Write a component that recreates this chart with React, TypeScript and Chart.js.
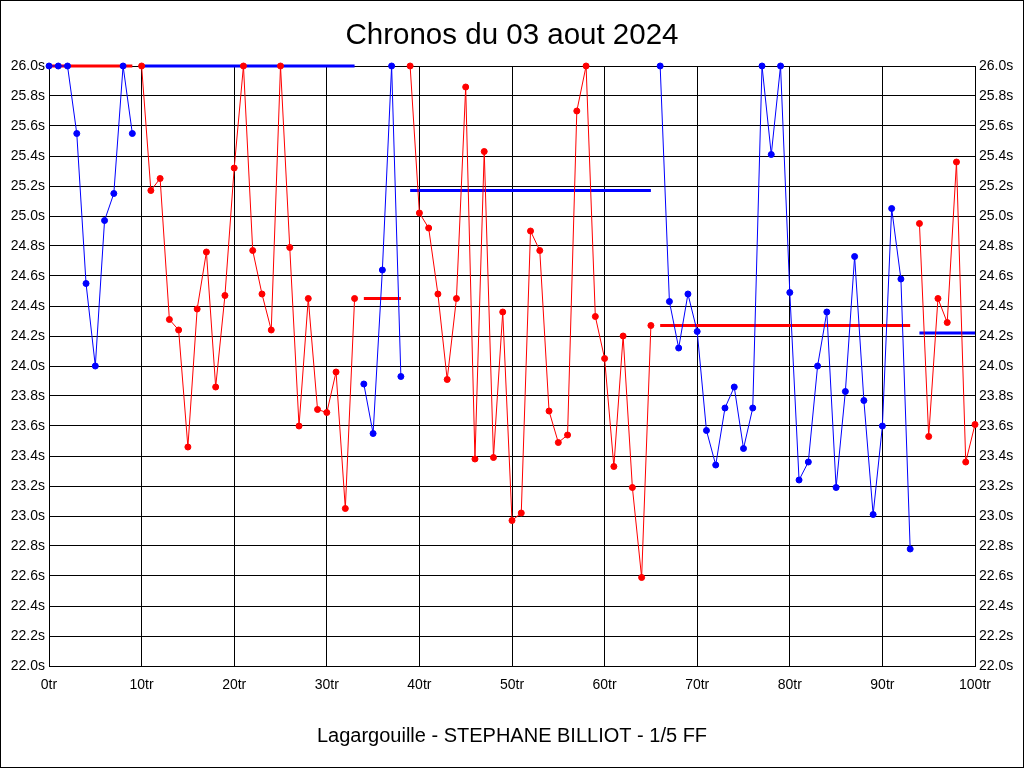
import React, { useEffect, useRef } from "react";
import { Chart, registerables } from "chart.js";

Chart.register(...registerables);

// Lap times (seconds) per stint, each stint starts at the given lap number
const stintStartLaps = [0, 10, 34, 39, 66, 94];
const stint1Times = [26.0, 26.0, 26.0, 25.55, 24.55, 24.0, 24.97, 25.15, 26.0, 25.55];
const stint2Times = [26.0, 25.17, 25.25, 24.31, 24.24, 23.46, 24.38, 24.76, 23.86, 24.47, 25.32, 26.0, 24.77, 24.48, 24.24, 26.0, 24.79, 23.6, 24.45, 23.71, 23.69, 23.96, 23.05, 24.45];
const stint3Times = [23.88, 23.55, 24.64, 26.0, 23.93];
const stint4Times = [26.0, 25.02, 24.92, 24.48, 23.91, 24.45, 25.86, 23.38, 25.43, 23.39, 24.36, 22.97, 23.02, 24.9, 24.77, 23.7, 23.49, 23.54, 25.7, 26.0, 24.33, 24.05, 23.33, 24.2, 23.19, 22.59, 24.27];
const stint5Times = [26.0, 24.43, 24.12, 24.48, 24.23, 23.57, 23.34, 23.72, 23.86, 23.45, 23.72, 26.0, 25.41, 26.0, 24.49, 23.24, 23.36, 24.0, 24.36, 23.19, 23.83, 24.73, 23.77, 23.01, 23.6, 25.05, 24.58, 22.78];
const stint6Times = [24.95, 23.53, 24.45, 24.29, 25.36, 23.36, 23.61];
const stintTimes = [stint1Times, stint2Times, stint3Times, stint4Times, stint5Times, stint6Times];
// Reference (average) line per stint
const stintAverages = [26.0, 26.0, 24.45, 25.17, 24.27, 24.22];
const stintColors = ["#0000ff", "#ff0000", "#0000ff", "#ff0000", "#0000ff", "#ff0000"];
const averageColors = ["#ff0000", "#0000ff", "#ff0000", "#0000ff", "#ff0000", "#0000ff"];

const titleText = "Chronos du 03 aout 2024";
const subtitleText = "Lagargouille - STEPHANE BILLIOT - 1/5 FF";
const xMin = 0, xMax = 100, xStep = 10;
const yMin = 22, yMax = 26, yStep = 0.2;

const FONT = "'Liberation Sans', Arial, Helvetica, sans-serif";

export default function App() {
  const ref = useRef<HTMLCanvasElement | null>(null);

  useEffect(() => {
    document.body.style.margin = "0";
    const canvas = ref.current;
    if (!canvas) return;

    const pointSets: any[] = stintTimes.map((times, i) => ({
      data: times.map((t, k) => ({ x: stintStartLaps[i] + k, y: t })),
      borderColor: stintColors[i],
      backgroundColor: stintColors[i],
      pointBackgroundColor: stintColors[i],
      pointBorderColor: stintColors[i],
      borderWidth: 1,
      pointRadius: 3,
      pointBorderWidth: 1,
      tension: 0,
      clip: false,
      order: 0,
    }));
    const avgSets: any[] = stintTimes.map((times, i) => ({
      data: [
        { x: stintStartLaps[i], y: stintAverages[i] },
        { x: stintStartLaps[i] + times.length - 1, y: stintAverages[i] },
      ],
      borderColor: averageColors[i],
      backgroundColor: averageColors[i],
      borderWidth: 3,
      pointRadius: 0,
      tension: 0,
      clip: false,
      order: 1,
    }));

    const borderPlugin = {
      id: "frame",
      beforeDraw(chart: any) {
        const ctx = chart.ctx;
        ctx.save();
        ctx.fillStyle = "#ffffff";
        ctx.fillRect(0, 0, chart.width, chart.height);
        ctx.restore();
      },
      afterDraw(chart: any) {
        const ctx = chart.ctx;
        ctx.save();
        ctx.strokeStyle = "#000000";
        ctx.lineWidth = 1;
        ctx.strokeRect(0.5, 0.5, chart.width - 1, chart.height - 1);
        ctx.restore();
      },
    };

    const chart = new Chart(canvas, {
      type: "line",
      data: { datasets: [...pointSets, ...avgSets] },
      options: {
        animation: false,
        responsive: false,
        maintainAspectRatio: false,
        layout: { padding: 0 },
        plugins: {
          legend: { display: false },
          tooltip: { enabled: false },
          title: {
            display: true,
            text: titleText,
            color: "#000000",
            font: { family: FONT, size: 29.5, weight: "normal", lineHeight: 1.2 },
            padding: { top: 18.3, bottom: 12.3 },
          },
          subtitle: {
            display: true,
            position: "bottom",
            text: subtitleText,
            color: "#000000",
            font: { family: FONT, size: 20, weight: "normal", lineHeight: 1.2 },
            padding: { top: 10, bottom: 20 },
          },
        },
        scales: {
          x: {
            type: "linear",
            min: xMin,
            max: xMax,
            afterFit: (s: any) => { s.height = 48; },
            ticks: {
              stepSize: xStep,
              color: "#000000",
              padding: 11,
              maxRotation: 0,
              font: { family: FONT, size: 14 },
              callback: (v: any) => `${Math.round(Number(v))}tr`,
            },
            grid: { color: "#000000", lineWidth: 1, drawTicks: false },
            border: { color: "#000000", width: 1 },
          },
          y: {
            type: "linear",
            position: "left",
            min: yMin,
            max: yMax,
            afterFit: (s: any) => { s.width = 49; },
            ticks: {
              stepSize: yStep,
              color: "#000000",
              padding: 4,
              font: { family: FONT, size: 14 },
              callback: (v: any) => `${Number(v).toFixed(1)}s`,
            },
            grid: { color: "#000000", lineWidth: 1, drawTicks: false },
            border: { color: "#000000", width: 1 },
          },
          y2: {
            type: "linear",
            position: "right",
            min: yMin,
            max: yMax,
            afterFit: (s: any) => { s.width = 49; },
            ticks: {
              stepSize: yStep,
              color: "#000000",
              padding: 4,
              font: { family: FONT, size: 14 },
              callback: (v: any) => `${Number(v).toFixed(1)}s`,
            },
            grid: { display: false, drawTicks: false },
            border: { color: "#000000", width: 1 },
          },
        },
      },
      plugins: [borderPlugin],
    });

    return () => chart.destroy();
  }, []);

  return (
    <div style={{ width: 1024, height: 768 }}>
      <canvas ref={ref} width={1024} height={768} style={{ display: "block", width: 1024, height: 768 }} />
    </div>
  );
}
